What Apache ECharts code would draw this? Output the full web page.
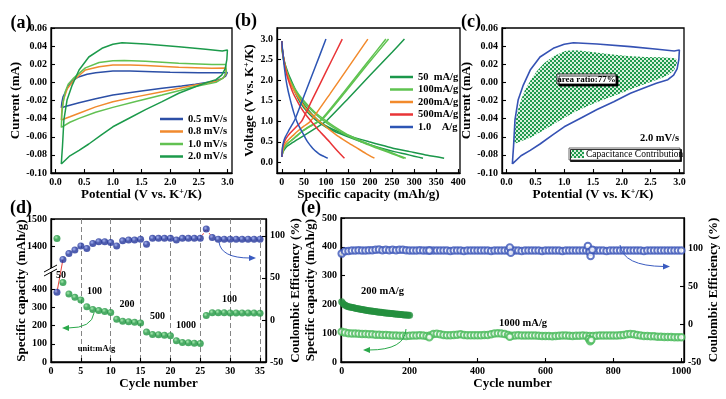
<!DOCTYPE html>
<html>
<head>
<meta charset="utf-8">
<script src="https://cdn.jsdelivr.net/npm/echarts@6/dist/echarts.min.js"></script>
<style>
  html, body { margin: 0; padding: 0; background: #fff; }
  #chart { width: 726px; height: 399px; }
</style>
</head>
<body>
<div id="chart"></div>
<script>
// ---------- (a) CV curves at different scan rates ----------
const aRates = ['0.5 mV/s', '0.8 mV/s', '1.0 mV/s', '2.0 mV/s'];
const aColors = ['#2c4fa6', '#f18a2e', '#62c152', '#1c9a4b'];
const cv05 = [[0.1,-0.028],[0.11,-0.022],[0.13,-0.016],[0.17,-0.011],[0.22,-0.004],[0.3,0.002],[0.4,0.006],[0.55,0.009],[0.7,0.0107],[1.0,0.0125],[1.3,0.0125],[1.7,0.0118],[2.0,0.0112],[2.5,0.0105],[2.9,0.0105],[3.0,0.011],
  [2.97,0.007],[2.9,0.004],[2.75,0.001],[2.44,-0.002],[2.2,-0.004],[1.86,-0.0066],[1.5,-0.0095],[1.0,-0.014],[0.7,-0.018],[0.41,-0.0224],[0.2,-0.026],[0.1,-0.028]];
const cv08 = [[0.1,-0.0415],[0.11,-0.03],[0.145,-0.018],[0.2,-0.0075],[0.32,0.0026],[0.52,0.0136],[0.76,0.0173],[1.0,0.0192],[1.3,0.0193],[1.57,0.0185],[2.15,0.0166],[2.73,0.0155],[2.97,0.0158],[3.0,0.0173],
  [2.98,0.01],[2.93,0.005],[2.8,0.001],[2.44,-0.003],[1.86,-0.0103],[1.4,-0.016],[1.0,-0.0213],[0.7,-0.027],[0.41,-0.034],[0.25,-0.038],[0.1,-0.0415]];
const cv10 = [[0.1,-0.0497],[0.11,-0.035],[0.13,-0.022],[0.17,-0.01],[0.22,-0.002],[0.32,0.005],[0.52,0.016],[0.76,0.022],[1.0,0.0238],[1.2,0.0242],[1.57,0.0232],[2.15,0.021],[2.73,0.0198],[2.97,0.0198],[3.0,0.0205],
  [2.98,0.011],[2.93,0.005],[2.8,0.0],[2.44,-0.0045],[1.86,-0.014],[1.4,-0.021],[1.0,-0.0276],[0.7,-0.033],[0.41,-0.0397],[0.25,-0.044],[0.1,-0.0497]];
const cv20 = [[0.1,-0.09],[0.11,-0.08],[0.12,-0.071],[0.145,-0.0415],[0.2,-0.0195],[0.29,-0.003],[0.41,0.0136],[0.58,0.028],[0.81,0.0376],[1.0,0.042],[1.16,0.0438],[1.57,0.0423],[2.15,0.0394],[2.62,0.0365],[2.91,0.0346],[3.0,0.0357],
  [2.99,0.025],[2.96,0.015],[2.9,0.008],[2.8,0.003],[2.6,-0.001],[2.44,-0.0048],[2.15,-0.012],[1.86,-0.0213],[1.57,-0.03],[1.3,-0.039],[1.0,-0.049],[0.8,-0.058],[0.58,-0.068],[0.41,-0.075],[0.25,-0.081],[0.1,-0.09]];
const aCurves = [cv05, cv08, cv10, cv20];

// ---------- (b) charge / discharge profiles ----------
const bRates = ['50  mA/g', '100mA/g', '200mA/g', '500mA/g', '1.0    A/g'];
const bColors = ['#1b974a', '#5fc350', '#f28a2c', '#e93437', '#2d55b4'];
const b50dis1 = [[0,2.95],[1,2.75],[3,2.6],[6,2.45],[10,2.3],[15,2.15],[21,2.0],[32,1.74],[44,1.5],[62,1.25],[85,1.0],[105,0.86],[130,0.74],[160,0.62],[198,0.5],[225,0.42],[250,0.35],[290,0.26],[330,0.17],[368,0.1]];
const b50dis2 = [[0,2.95],[1,2.75],[3,2.6],[6,2.42],[10,2.25],[15,2.1],[20,1.95],[30,1.7],[42,1.45],[60,1.2],[80,1.0],[100,0.86],[120,0.75],[150,0.62],[180,0.5],[205,0.41],[230,0.33],[255,0.26],[280,0.2],[300,0.15],[320,0.1]];
const b50chg = [[0,0.13],[2,0.24],[5,0.3],[12,0.39],[20,0.45],[35,0.55],[50,0.65],[75,0.82],[100,1.0],[150,1.55],[200,2.12],[250,2.68],[278,3.0]];
const b100dis1 = [[0,2.95],[1,2.72],[3,2.55],[7,2.35],[12,2.15],[20,1.95],[30,1.75],[42,1.57],[55,1.4],[72,1.22],[90,1.05],[115,0.86],[140,0.7],[165,0.57],[190,0.45],[215,0.35],[240,0.25],[260,0.17],[277,0.1]];
const b100dis2 = [[0,2.95],[1,2.72],[3,2.55],[7,2.35],[13,2.15],[21,1.95],[32,1.75],[44,1.57],[58,1.4],[75,1.22],[95,1.05],[120,0.86],[145,0.7],[170,0.57],[195,0.45],[220,0.35],[245,0.25],[264,0.17],[281,0.1]];
const b100chg1 = [[0,0.13],[2,0.26],[5,0.35],[11,0.44],[20,0.52],[32,0.63],[45,0.75],[65,0.89],[90,1.05],[140,1.7],[190,2.38],[236,3.0]];
const b100chg2 = [[0,0.13],[2,0.26],[5,0.35],[11,0.44],[20,0.52],[33,0.63],[46,0.75],[67,0.89],[92,1.05],[143,1.7],[194,2.38],[242,3.0]];
const b200dis = [[0,2.95],[1,2.75],[3,2.6],[7,2.36],[12,2.15],[20,1.92],[30,1.7],[42,1.5],[55,1.3],[72,1.12],[90,0.95],[110,0.78],[130,0.62],[150,0.48],[170,0.35],[190,0.22],[210,0.1]];
const b200chg = [[0,0.13],[2,0.28],[4,0.38],[9,0.48],[15,0.55],[25,0.65],[35,0.75],[50,0.88],[65,1.0],[110,1.68],[150,2.3],[195,3.0]];
const b500dis = [[0,2.95],[1,2.76],[3,2.6],[7,2.33],[12,2.1],[18,1.9],[25,1.7],[35,1.49],[45,1.3],[57,1.12],[70,0.95],[82,0.8],[95,0.65],[108,0.5],[120,0.35],[131,0.22],[142,0.1]];
const b500chg = [[0,0.13],[1,0.3],[3,0.42],[7,0.53],[12,0.62],[18,0.7],[25,0.78],[35,0.89],[45,1.0],[70,1.55],[100,2.2],[137,3.0]];
const b1Adis = [[0,2.95],[1,2.8],[2.5,2.66],[4.5,2.42],[7,2.2],[10,1.97],[13.8,1.76],[18,1.57],[22,1.4],[27,1.21],[32.7,1.03],[38,0.9],[44,0.78],[50,0.66],[55.3,0.55],[61,0.46],[67,0.38],[72,0.32],[78,0.26],[85,0.2],[92,0.16],[98,0.13],[104,0.1]];
const b1Achg = [[0,0.13],[0.8,0.28],[2,0.4],[4.5,0.52],[8,0.62],[13,0.72],[18,0.82],[24,0.93],[30,1.05],[50,1.61],[75,2.3],[100,3.0]];
const bSegments = [[b50dis1, b50dis2, b50chg], [b100dis1, b100dis2, b100chg1, b100chg2], [b200dis, b200chg], [b500dis, b500chg], [b1Adis, b1Achg]];

// ---------- (c) capacitive contribution region at 2.0 mV/s ----------
const capRegion = [[0.13,-0.068],[0.14,-0.055],[0.16,-0.0415],[0.2,-0.03],[0.25,-0.0195],[0.32,-0.008],[0.42,0.0026],[0.52,0.012],[0.65,0.021],[0.82,0.029],[1.03,0.035],[1.2,0.0355],[1.41,0.034],[1.8,0.031],[2.1,0.029],[2.4,0.028],[2.68,0.0277],[2.94,0.0266],
  [2.96,0.022],[2.91,0.0136],[2.8,0.008],[2.68,0.0045],[2.27,-0.0048],[1.9,-0.014],[1.52,-0.0231],[1.2,-0.032],[0.94,-0.0415],[0.65,-0.0526],[0.42,-0.0607],[0.25,-0.065],[0.13,-0.068]];

// ---------- (d) rate performance ----------
const dCycles = [1,2,3,4,5,6,7,8,9,10,11,12,13,14,15,16,17,18,19,20,21,22,23,24,25,26,27,28,29,30,31,32,33,34,35];
const dCapacity = [1428,438,375,357,342,305,290,284,279,273,236,225,222,219,215,165,152,150,148,145,117,108,106,104,102,256,272,272,272,271,271,271,270,270,269];
const dCE = [33,72,79,83,88,85,91,93,93,92,88,94,95,95,96,90,97,97,97,97,95,97,97,97,97,108,98,96,96,96,96,96,96,96,96];

// ---------- (e) long cycling (sampled every 10 / 4 cycles) ----------
const eCE = [93,96,96.5,97,97,97.5,97,97,97.5,97.5, 98,98.5,97.5,98,97.5,98,97.5,98,98,97.5,
  97,97,97,97.5,97,97,97,97,97,97, 97,97,96.5,97,97,97,96.5,97,97,97,
  97,97,97,97,96.5,97,97,97,97,97, 97,97,97,96.5,97,97,97,97,97,96.5,
  97,97,97,97,97,96.5,97,97,97,97, 97,97,97,97,97,97,97,97,96.5,97,
  97,97,97,97,97,97,97,97,97,96.5, 97,97,97,97,97,97,97,97,97,97, 97];
const eCap1000 = [105,102,100,99,99,98,97,97,96,96, 95,95,94,94,93,92,92,91,91,90,
  91,92,92,93,92,90,92,97,98,96, 94,93,93,94,95,96,94,93,93,93,
  93,93,94,94,96,99,100,99,97,94, 91,92,93,92,92,92,92,92,91,90,
  90,90,89,90,91,92,92,91,90,91, 91,92,91,90,90,91,92,92,92,92,
  92,92,93,94,96,97,96,94,92,90, 90,89,89,88,88,87,87,87,86,86, 86];
const eCap200 = [209,203,199,196,194,192,191,190,189,188, 187,186,185,184,183,182,181,180.5,180,179,
  178,177.5,177,176,175.5,175,174,173.5,173,172.5, 172,171,170.5,170,169.5,169,168.5,168,167.5,167,
  166.5,166,165.5,165,164.5,164,163.5,163,163,162.5, 162];
const eCEOutliers = [[258,97],[495,101],[498,94],[725,103],[730,95],[733,90],[738,98]];
const eCapOutliers = [[258,86],[495,88],[728,80],[732,72],[735,76]];

// ---------- tick labels ----------
const aXTicks = [0, 0.5, 1.0, 1.5, 2.0, 2.5, 3.0];
const aYTicks = [-0.10, -0.08, -0.06, -0.04, -0.02, 0, 0.02, 0.04, 0.06];
const bXTicks = [0, 50, 100, 150, 200, 250, 300, 350, 400];
const bYTicks = [0, 0.5, 1.0, 1.5, 2.0, 2.5, 3.0];
const dXTicks = [0, 5, 10, 15, 20, 25, 30, 35];
const dCapHighTicks = [1400, 1500];
const dCapLowTicks = [0, 100, 200, 300, 400];
const dCETicks = [-50, 0, 50, 100];
const eXTicks = [0, 200, 400, 600, 800, 1000];
const eCapTicks = [0, 100, 200, 300, 400, 500];
const eCETicks = [-50, 0, 50, 100];

const FONT = '"Liberation Serif", "Times New Roman", serif';
const RICH = { sup: { fontFamily: FONT, fontWeight: 'bold', fontSize: 8, verticalAlign: 'top', lineHeight: 8 } };
const f1 = v => Number(v).toFixed(1);
const f2 = v => Number(v).toFixed(2);
const fi = v => String(v);

function vAxis(gridIndex, min, max, ticks, fmt, extra) {
  return Object.assign({
    type: 'value', gridIndex: gridIndex, min: min, max: max,
    axisLine: { show: true, onZero: false, lineStyle: { color: '#000', width: 1.3 } },
    axisTick: { show: true, inside: true, length: 4, customValues: ticks, lineStyle: { color: '#000', width: 1.1 } },
    axisLabel: { show: true, margin: 4, customValues: ticks, formatter: fmt, showMinLabel: true, showMaxLabel: true, hideOverlap: false,
      color: '#000', fontFamily: FONT, fontWeight: 'bold', fontSize: 10 },
    splitLine: { show: false },
    nameLocation: 'middle',
    nameTextStyle: { color: '#000', fontFamily: FONT, fontWeight: 'bold', fontSize: 13, lineHeight: 14, rich: RICH }
  }, extra || {});
}
function hidden(gridIndex, min, max) {
  return { type: 'value', gridIndex: gridIndex, min: min, max: max, show: false };
}
function sphere(light, dark) {
  return { type: 'radial', x: 0.38, y: 0.35, r: 0.7, colorStops: [{ offset: 0, color: light }, { offset: 0.45, color: dark }, { offset: 1, color: dark }] };
}

// checkered fill for the capacitive area
const pat = document.createElement('canvas');
pat.width = 4; pat.height = 4;
const pctx = pat.getContext('2d');
pctx.fillStyle = '#1f9a4e'; pctx.fillRect(0, 0, 4, 4);
pctx.fillStyle = '#d8f0dc'; pctx.fillRect(0, 0, 2, 2); pctx.fillRect(2, 2, 2, 2);
const patFill = { image: pat, repeat: 'repeat' };

const boxBorder = { show: true, borderColor: '#000', borderWidth: 1.3, backgroundColor: 'transparent' };
const grids = [
  Object.assign({ left: 51, top: 28, width: 181, height: 145 }, boxBorder),   // a
  Object.assign({ left: 277, top: 28, width: 183, height: 145 }, boxBorder),  // b
  Object.assign({ left: 502, top: 28, width: 182, height: 145 }, boxBorder),  // c
  Object.assign({ left: 51, top: 219, width: 215, height: 143 }, boxBorder),  // d full
  { left: 51, top: 219, width: 215, height: 54 },                             // d upper
  { left: 51, top: 273, width: 215, height: 89 },                             // d lower
  Object.assign({ left: 341, top: 218, width: 343, height: 144 }, boxBorder)  // e
];

const xAxes = [
  vAxis(0, -0.08, 3.08, aXTicks, f1, { name: 'Potential (V vs. K{sup|+}/K)', nameGap: 13 }),
  vAxis(1, -11, 404, bXTicks, fi, { name: 'Specific capacity (mAh/g)', nameGap: 13 }),
  vAxis(2, -0.08, 3.08, aXTicks, f1, { name: 'Potential (V vs. K{sup|+}/K)', nameGap: 13 }),
  vAxis(3, 0, 36, dXTicks, fi, { name: 'Cycle number', nameGap: 13, interval: 5,
    splitLine: { show: true, lineStyle: { type: [5, 3], color: '#777', width: 0.9 } } }),
  hidden(4, 0, 36),
  hidden(5, 0, 36),
  vAxis(6, -2, 1008, eXTicks, fi, { name: 'Cycle number', nameGap: 13 })
];
const yAxes = [
  vAxis(0, -0.10, 0.06, aYTicks, f2, { name: 'Current (mA)', nameGap: 28 }),
  vAxis(1, -0.26, 3.27, bYTicks, f1, { name: 'Voltage (V vs. K{sup|+}/K)', nameGap: 19 }),
  vAxis(2, -0.10, 0.06, aYTicks, f2, { name: 'Current (mA)', nameGap: 23 }),
  vAxis(3, 0, 1, [], fi, { name: 'Specific capacity (mAh/g)', nameGap: 22, position: 'left',
    axisLine: { show: false }, axisTick: { show: false }, axisLabel: { show: false } }),
  vAxis(3, -50, 120, dCETicks, fi, { name: 'Coulombic Efficiency (%)', nameGap: 19, position: 'right' }),
  vAxis(4, 1300, 1500, dCapHighTicks, fi, {}),
  vAxis(5, 0, 491, dCapLowTicks, fi, {}),
  vAxis(6, 0, 500, eCapTicks, fi, { name: 'Specific capacity (mAh/g)', nameGap: 18 }),
  vAxis(6, -50, 140, eCETicks, fi, { name: 'Coulombic Efficiency (%)', nameGap: 19, position: 'right' })
];

const series = [];
aCurves.forEach((c, i) => series.push({
  type: 'line', name: aRates[i], xAxisIndex: 0, yAxisIndex: 0, data: c,
  symbol: 'none', lineStyle: { width: 1.5, color: aColors[i] }, itemStyle: { color: aColors[i] }
}));
bSegments.forEach((segs, i) => segs.forEach(seg => series.push({
  type: 'line', name: bRates[i], xAxisIndex: 1, yAxisIndex: 1, data: seg,
  symbol: 'none', smooth: 0.2,
  lineStyle: { width: 1.5, color: bColors[i] }, itemStyle: { color: bColors[i] }
})));
series.push({
  type: 'custom', xAxisIndex: 2, yAxisIndex: 2, data: [[1, 0]], clip: false,
  renderItem: (params, api) => ({
    type: 'polygon',
    shape: { points: capRegion.map(p => api.coord(p)) },
    style: { fill: patFill, stroke: null }
  })
});
series.push({
  type: 'line', xAxisIndex: 2, yAxisIndex: 2, data: cv20, symbol: 'none',
  lineStyle: { width: 1.6, color: '#3552b4' }
});

// (d)
const dCapPts = dCycles.map((c, i) => [c, dCapacity[i]]);
const dCEPts = dCycles.map((c, i) => [c, dCE[i]]);
series.push({
  type: 'line', xAxisIndex: 3, yAxisIndex: 4, data: dCEPts.slice(0, 2), symbol: 'none',
  lineStyle: { width: 1, color: '#e8403a' }, z: 2
});
series.push({
  type: 'line', xAxisIndex: 3, yAxisIndex: 4, data: dCEPts.slice(24, 27), symbol: 'none',
  lineStyle: { width: 1, color: '#e8403a', type: [2, 2] }, z: 2
});
series.push({
  type: 'scatter', xAxisIndex: 3, yAxisIndex: 4, data: dCEPts, symbolSize: 7,
  itemStyle: { color: sphere('#8d9ff0', '#22349a') }, z: 3
});
series.push({
  type: 'scatter', xAxisIndex: 4, yAxisIndex: 5, data: dCapPts.filter(p => p[1] > 1000), symbolSize: 7,
  itemStyle: { color: sphere('#8fe59a', '#1f9640') }, z: 3
});
series.push({
  type: 'scatter', xAxisIndex: 5, yAxisIndex: 6, data: dCapPts.filter(p => p[1] <= 1000), symbolSize: 7,
  itemStyle: { color: sphere('#8fe59a', '#1f9640') }, z: 3
});

// (e)
series.push({
  type: 'scatter', xAxisIndex: 6, yAxisIndex: 8, data: eCE.map((v, i) => [i * 10, v]).concat(eCEOutliers),
  symbol: 'emptyCircle', symbolSize: 6.5, itemStyle: { color: '#3b55b8', borderWidth: 1.1 }
});
series.push({
  type: 'scatter', xAxisIndex: 6, yAxisIndex: 7, data: eCap1000.map((v, i) => [i * 10, v]).concat(eCapOutliers),
  symbol: 'emptyCircle', symbolSize: 6.5, itemStyle: { color: '#46b957', borderWidth: 1.3 }
});
series.push({
  type: 'scatter', xAxisIndex: 6, yAxisIndex: 7, data: eCap200.map((v, i) => [i * 4, v]),
  symbolSize: 7, itemStyle: { color: '#24903f' }
});

const legendText = { color: '#000', fontFamily: FONT, fontWeight: 'bold', fontSize: 10.5, lineHeight: 12 };
const legends = [
  { data: aRates, orient: 'vertical', left: 160, top: 113, padding: 0, itemGap: 0.5, icon: 'rect',
    itemWidth: 23, itemHeight: 2.5, textStyle: legendText, selectedMode: false },
  { data: bRates, orient: 'vertical', left: 390, top: 71, padding: 0, itemGap: 0.5, icon: 'rect',
    itemWidth: 23, itemHeight: 2.5, textStyle: legendText, selectedMode: false }
];

function txt(x, y, text, size, weight, align) {
  return { type: 'text', x: x, y: y, z: 10, style: {
    text: text, font: (weight || 'bold') + ' ' + size + 'px ' + FONT, fill: '#000',
    align: align || 'center', verticalAlign: 'middle', textAlign: align || 'center', textVerticalAlign: 'middle' } };
}
function arrow(x1, y1, cx, cy, x2, y2, head, color) {
  return [
    { type: 'bezierCurve', z: 10, shape: { x1: x1, y1: y1, cpx1: cx, cpy1: cy, x2: x2, y2: y2 }, style: { stroke: color, lineWidth: 1, fill: null } },
    { type: 'polygon', z: 10, shape: { points: head }, style: { fill: color } }
  ];
}

const graphics = [
  txt(21, 23, '(a)', 18), txt(246, 21, '(b)', 18), txt(471, 22, '(c)', 18),
  txt(21, 208, '(d)', 18), txt(311, 208, '(e)', 18),
  // axis break on (d)
  { type: 'polygon', z: 10, shape: { points: [[44, 272], [57, 265], [57, 269], [44, 276]] }, style: { fill: '#fff' } },
  { type: 'line', z: 11, shape: { x1: 44, y1: 272, x2: 57, y2: 265 }, style: { stroke: '#000', lineWidth: 1 } },
  { type: 'line', z: 11, shape: { x1: 44, y1: 276, x2: 57, y2: 269 }, style: { stroke: '#000', lineWidth: 1 } },
  txt(61, 275, '50', 10), txt(94.5, 291.5, '100', 10), txt(127, 304.5, '200', 10),
  txt(157.5, 316.5, '500', 10), txt(186, 325, '1000', 10), txt(229.5, 299, '100', 10),
  txt(96.5, 348.5, 'unit:mA/g', 8.5),
  txt(382.5, 291.5, '200 mA/g', 10.5), txt(523, 323.5, '1000 mA/g', 10.5),
  // (c) annotations
  { type: 'rect', z: 10, shape: { x: 557, y: 74, width: 59, height: 10 },
    style: { fill: '#fff', stroke: '#000', lineWidth: 0.8, shadowColor: '#000', shadowOffsetX: 2, shadowOffsetY: 2, shadowBlur: 0 } },
  txt(586.5, 79.2, 'area ratio:77%', 9),
  txt(640, 138, '2.0 mV/s', 10.5, 'bold', 'left'),
  { type: 'rect', z: 10, shape: { x: 569, y: 148, width: 111, height: 12 },
    style: { fill: '#fff', stroke: '#444', lineWidth: 0.8, shadowColor: '#000', shadowOffsetX: 1.5, shadowOffsetY: 1.5, shadowBlur: 0 } },
  { type: 'rect', z: 11, shape: { x: 571, y: 150, width: 13, height: 8 }, style: { fill: patFill } },
  txt(586, 154.2, 'Capacitance Contribution', 9.5, 'normal', 'left')
]
  .concat(arrow(94, 313, 92, 328, 68, 328, [[62, 328], [69, 325], [69, 331]], '#2aa84a'))
  .concat(arrow(219, 242, 221, 258, 250, 258, [[256, 258], [249, 255], [249, 261]], '#3a5bc0'))
  .concat(arrow(620, 245, 623, 266, 664, 266.5, [[670, 266.5], [663, 263.5], [663, 269.5]], '#3a5bc0'))
  .concat(arrow(406, 329, 405, 350, 369, 350, [[363, 350], [370, 347], [370, 353]], '#2aa84a'));

const chart = echarts.init(document.getElementById('chart'), null, { renderer: 'canvas' });
chart.setOption({
  animation: false,
  backgroundColor: '#fff',
  textStyle: { fontFamily: FONT },
  grid: grids,
  xAxis: xAxes,
  yAxis: yAxes,
  legend: legends,
  series: series,
  graphic: { elements: graphics }
});
window.onresize = function () { chart.resize(); };
</script>
</body>
</html>
